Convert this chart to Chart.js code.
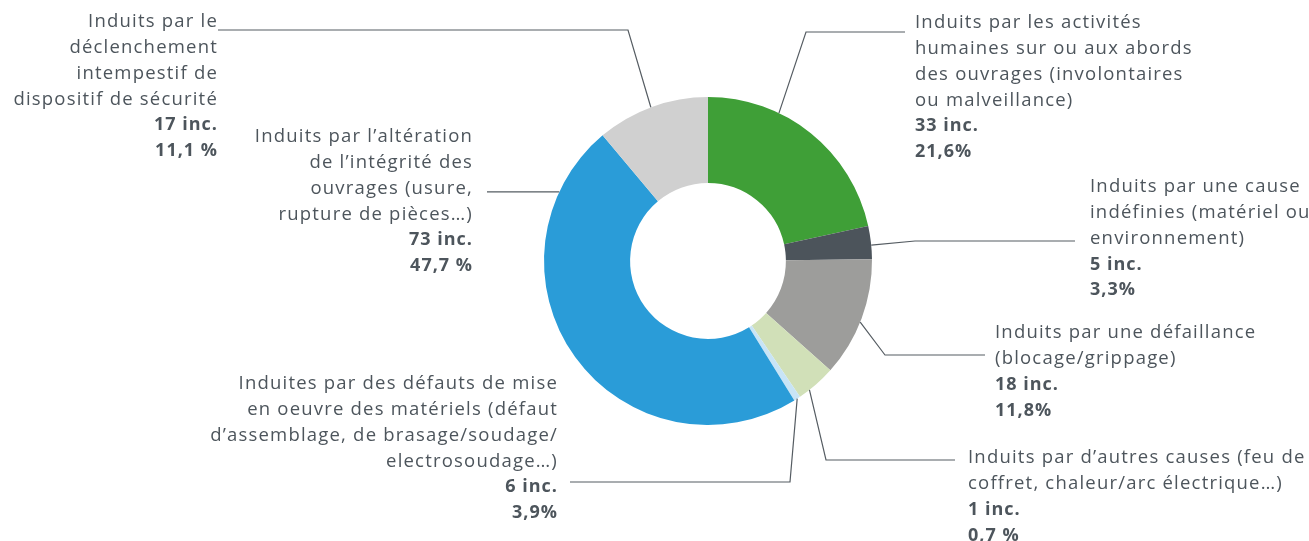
<!DOCTYPE html>
<html><head><meta charset="utf-8">
<script src="https://cdn.jsdelivr.net/npm/chart.js@4"></script>
<style>html,body{margin:0;padding:0;background:#fff;overflow:hidden}canvas{display:block}</style>
</head><body>
<canvas id="c" width="1309" height="541"></canvas>
<script>
// ---- DATA ----
const categories = [
  ["Induits par les activités", "humaines sur ou aux abords", "des ouvrages (involontaires", "ou malveillance)"],
  ["Induits par une cause", "indéfinies (matériel ou", "environnement)"],
  ["Induits par une défaillance", "(blocage/grippage)"],
  ["Induites par des défauts de mise", "en oeuvre des matériels (défaut", "d’assemblage, de brasage/soudage/", "electrosoudage…)"],
  ["Induits par d’autres causes (feu de", "coffret, chaleur/arc électrique…)"],
  ["Induits par l’altération", "de l’intégrité des", "ouvrages (usure,", "rupture de pièces…)"],
  ["Induits par le", "déclenchement", "intempestif de", "dispositif de sécurité"]
];
const incidents = [33, 5, 18, 6, 1, 73, 17];
const countLabels = ["33 inc.", "5 inc.", "18 inc.", "6 inc.", "1 inc.", "73 inc.", "17 inc."];
const percentLabels = ["21,6%", "3,3%", "11,8%", "3,9%", "0,7 %", "47,7 %", "11,1 %"];
const sliceColors = ["#3f9f37", "#4c545b", "#9d9d9b", "#d1e0b8", "#c8e4f6", "#2a9cd8", "#d0d0d0"];

// ---- LAYOUT (label boxes and leader lines) ----
const labelLayout = [
  { x: 915, y: 23, align: "left", anchor: 0, frac: 0.33, path: [[806, 32], [905, 32]] },
  { x: 1090, y: 187, align: "left", anchor: 1, frac: 0.58, path: [[915, 241], [1075, 241]] },
  { x: 995, y: 333, align: "left", anchor: 2, frac: 0.53, path: [[885, 355], [985, 355]] },
  { x: 558, y: 384, align: "right", anchor: 4, frac: 0.5, path: [[790, 482], [570, 482]] },
  { x: 968, y: 458, align: "left", anchor: 3, frac: 0.71, path: [[826, 460], [955, 460]] },
  { x: 473, y: 137, align: "right", anchor: 5, frac: 0.854, path: [[487, null]] },
  { x: 218, y: 22, align: "right", anchor: 6, frac: 0.49, path: [[628, 30], [218, 30]] }
];
const LINE_H = 25.8;
const TEXT_COLOR = "#4d555c";
const FONT = "'Open Sans', sans-serif";

const leaderPlugin = {
  id: "leaders",
  afterDraw(chart) {
    const ctx = chart.ctx;
    const arcs = chart.getDatasetMeta(0).data;
    ctx.save();
    labelLayout.forEach((L, i) => {
      const arc = arcs[L.anchor];
      const a = arc.startAngle + L.frac * (arc.endAngle - arc.startAngle);
      const r = arc.outerRadius;
      const ax = arc.x + r * Math.cos(a), ay = arc.y + r * Math.sin(a);
      ctx.strokeStyle = "#555c62";
      ctx.lineWidth = 1.2;
      ctx.beginPath();
      ctx.moveTo(ax, ay);
      L.path.forEach(p => ctx.lineTo(p[0], p[1] === null ? ay : p[1]));
      ctx.stroke();

      ctx.fillStyle = TEXT_COLOR;
      ctx.textAlign = L.align;
      ctx.textBaseline = "middle";
      const lines = categories[i].map(t => ({ t, b: false }))
        .concat([{ t: countLabels[i], b: true }, { t: percentLabels[i], b: true }]);
      lines.forEach((ln, k) => {
        ctx.font = ln.b ? "700 18px " + FONT : "400 18.5px " + FONT;
        ctx.letterSpacing = ln.b ? "1px" : "1.2px";
        ctx.fillText(ln.t, L.x, L.y + k * LINE_H);
      });
    });
    ctx.restore();
  }
};

new Chart(document.getElementById("c"), {
  type: "doughnut",
  data: {
    labels: categories.map(c => c.join(" ")),
    datasets: [{
      data: incidents,
      backgroundColor: sliceColors,
      borderWidth: 0,
      hoverOffset: 0
    }]
  },
  options: {
    responsive: false,
    animation: false,
    cutout: "47.5%",
    layout: { padding: { top: 97, bottom: 116, left: 544, right: 437 } },
    plugins: { legend: { display: false }, tooltip: { enabled: false } }
  },
  plugins: [leaderPlugin]
});
</script>
</body></html>
